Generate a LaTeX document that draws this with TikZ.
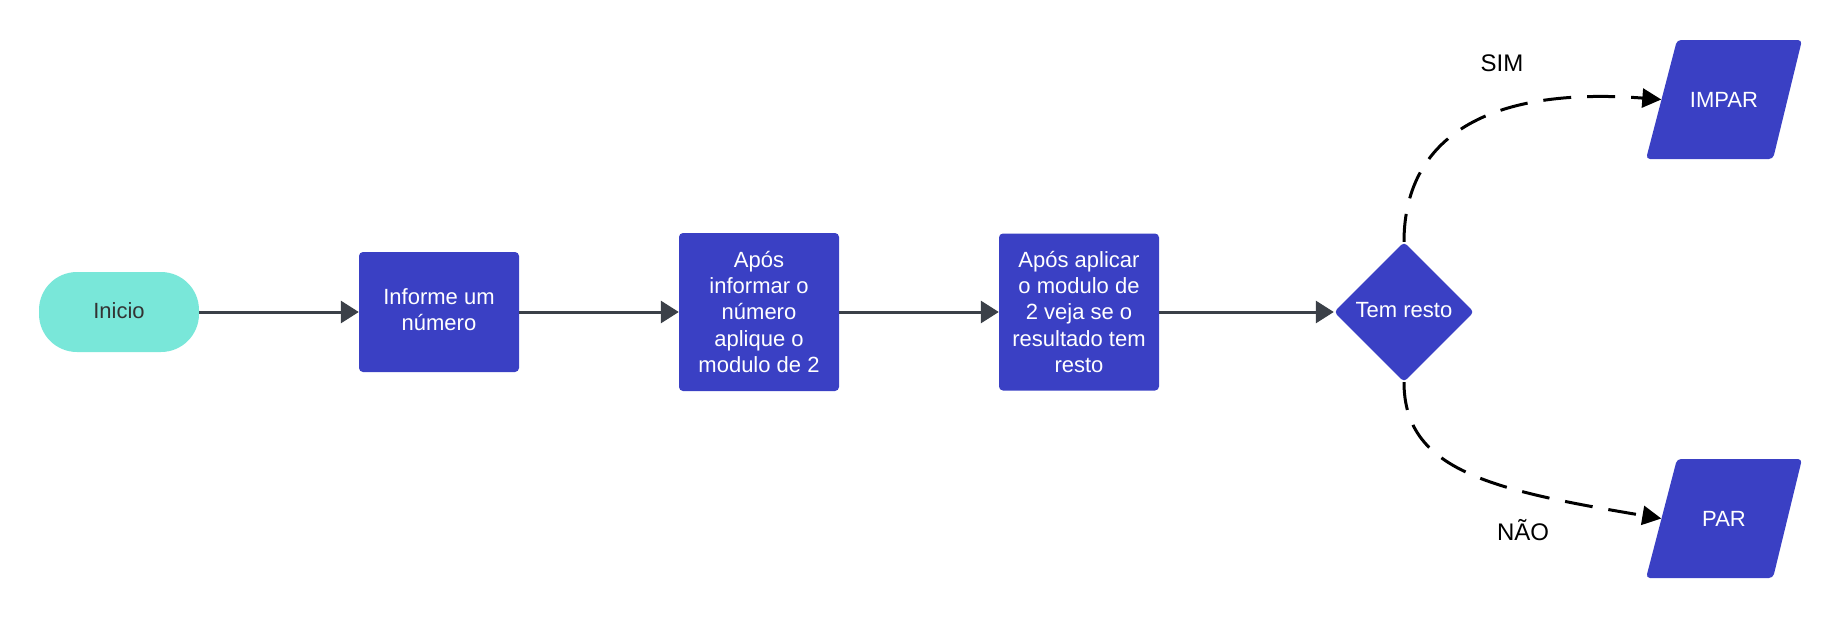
\documentclass[tikz,border=0pt]{standalone}
\usepackage{fontspec}
\setmainfont{Liberation Sans}
\usetikzlibrary{arrows.meta,shapes.geometric}
\definecolor{boxblue}{HTML}{3A40C4}
\definecolor{startteal}{HTML}{79E7D9}
\definecolor{linegray}{HTML}{3B4048}
\definecolor{txtdark}{HTML}{333333}
\tikzset{
  procbox/.style={fill=boxblue, rounded corners=4pt, minimum width=160pt, text=white,
    align=center, inner sep=0pt, font=\fontsize{22}{26.4}\selectfont},
  decide/.style={diamond, fill=boxblue, rounded corners=4pt, minimum width=140pt, minimum height=140pt,
    text=white, inner sep=0pt, font=\fontsize{22}{26.4}\selectfont},
  iobox/.style={minimum width=125pt, minimum height=119pt, text=white, inner sep=0pt,
    font=\fontsize{22}{26.4}\selectfont},
  flow/.style={draw=linegray, line width=3pt, -{Triangle[length=18pt,width=22pt]}},
  branch/.style={draw=black, line width=3pt, dash pattern=on 28pt off 16pt,
    -{Triangle[length=19pt,width=19pt]}},
  branchlabel/.style={text=black, font=\fontsize{24}{28}\selectfont, inner sep=0pt}
}
\begin{document}
\begin{tikzpicture}[x=1pt,y=-1pt]
\useasboundingbox (0,0) rectangle (1845,619);
% start
\node[fill=startteal, rounded corners=38pt, minimum width=160pt, minimum height=80pt, inner sep=0pt,
  text=txtdark, font=\fontsize{22}{26.4}\selectfont] (inicio) at (119,312) {\raisebox{3pt}{Inicio}};
\node[procbox, minimum height=120pt] (b1) at (439,312) {\raisebox{2pt}{\begin{tabular}{@{}c@{}}Informe um\\número\end{tabular}}};
\node[procbox, minimum height=158pt] (b2) at (759,312) {Após\\informar o\\número\\aplique o\\modulo de 2};
\node[procbox, minimum height=157pt] (b3) at (1079,312) {Após aplicar\\o modulo de\\2 veja se o\\resultado tem\\resto};
\node[decide] (tem) at (1404,312) {\raisebox{4pt}{Tem resto}};
% parallelograms
\fill[boxblue, rounded corners=4pt] (1677,40) -- (1802,40) -- (1773,159) -- (1646,159) -- cycle;
\fill[boxblue, rounded corners=4pt] (1677,459) -- (1802,459) -- (1773,578) -- (1646,578) -- cycle;
\node[iobox] (impar) at (1724,99.5) {IMPAR};
\node[iobox] (par) at (1724,518.5) {PAR};
% connectors
\draw[flow] (inicio.east) -- (b1.west);
\draw[flow] (b1.east) -- (b2.west);
\draw[flow] (b2.east) -- (b3.west);
\draw[flow] (b3.east) -- (tem.west);
\draw[branch] (tem.north) .. controls (1404,150) and (1470,85) .. (impar.west);
\draw[branch] (tem.south) .. controls (1404,470) and (1490,490) .. (par.west);
\node[branchlabel] (sim) at (1502,63) {SIM};
\node[branchlabel] (nao) at (1523,530) {NÃO};
\end{tikzpicture}
\end{document}
